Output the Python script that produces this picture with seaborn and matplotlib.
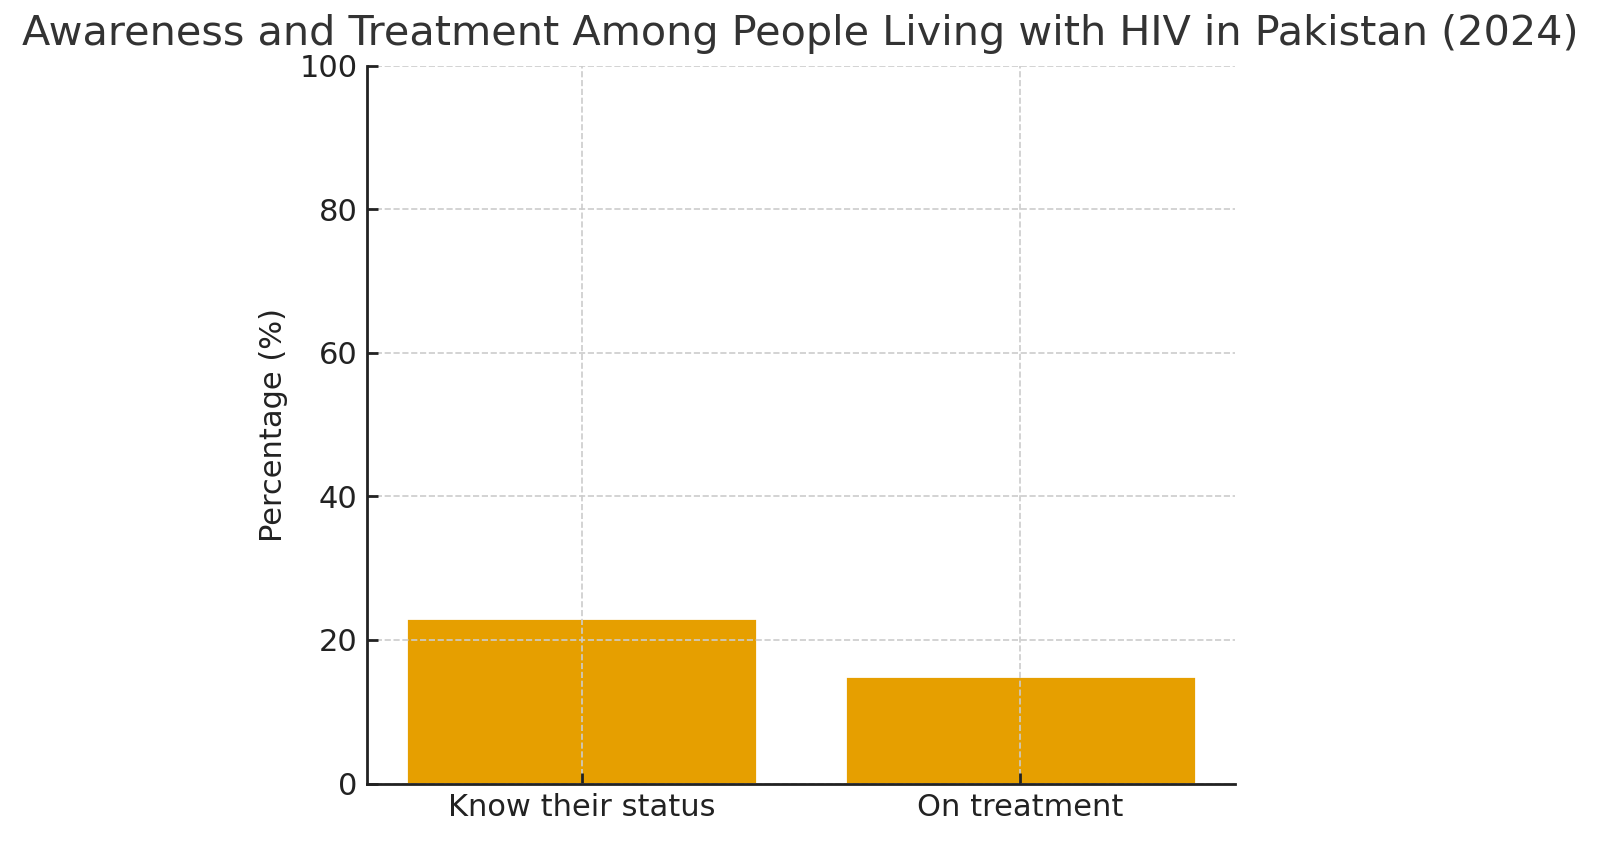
import matplotlib
matplotlib.use("Agg")
import matplotlib.pyplot as plt
import seaborn as sns
import pandas as pd

categories = ["Know their status", "On treatment"]
values = [23, 15]
yticks = [0, 20, 40, 60, 80, 100]

sns.set_theme(style="ticks")
plt.rcParams['font.family'] = ['DejaVu Sans']

df = pd.DataFrame({"Category": categories, "Percentage": values})

fig = plt.figure(figsize=(8, 4.215), dpi=200)
ax = fig.add_axes([0.2294, 0.0705, 0.5425, 0.8517])
sns.barplot(data=df, x="Category", y="Percentage", color="#E69F00",
            saturation=1, width=0.8, ax=ax)
ax.set_ylim(0, 100)
ax.set_yticks(yticks)
ax.set_xlim(-0.49, 1.49)
ax.grid(True, linestyle="--", color="#cccccc", linewidth=0.6)
ax.set_axisbelow(False)
for p in ax.patches:
    p.set_zorder(0.5)
ax.set_xlabel("")
ax.set_ylabel("Percentage (%)", fontsize=11, color="#222222")
ax.tick_params(direction="in", labelsize=11, colors="#222222", length=4, width=1)
sns.despine(ax=ax)
for s in ["left", "bottom"]:
    ax.spines[s].set_color("#222222")
    ax.spines[s].set_linewidth(1.0)
    ax.spines[s].set_zorder(5)
fig.suptitle("Awareness and Treatment Among People Living with HIV in Pakistan (2024)",
             fontsize=14.9, color="#333333", x=0.5, y=0.983, va="top")
fig.savefig("out.png", dpi=200)
